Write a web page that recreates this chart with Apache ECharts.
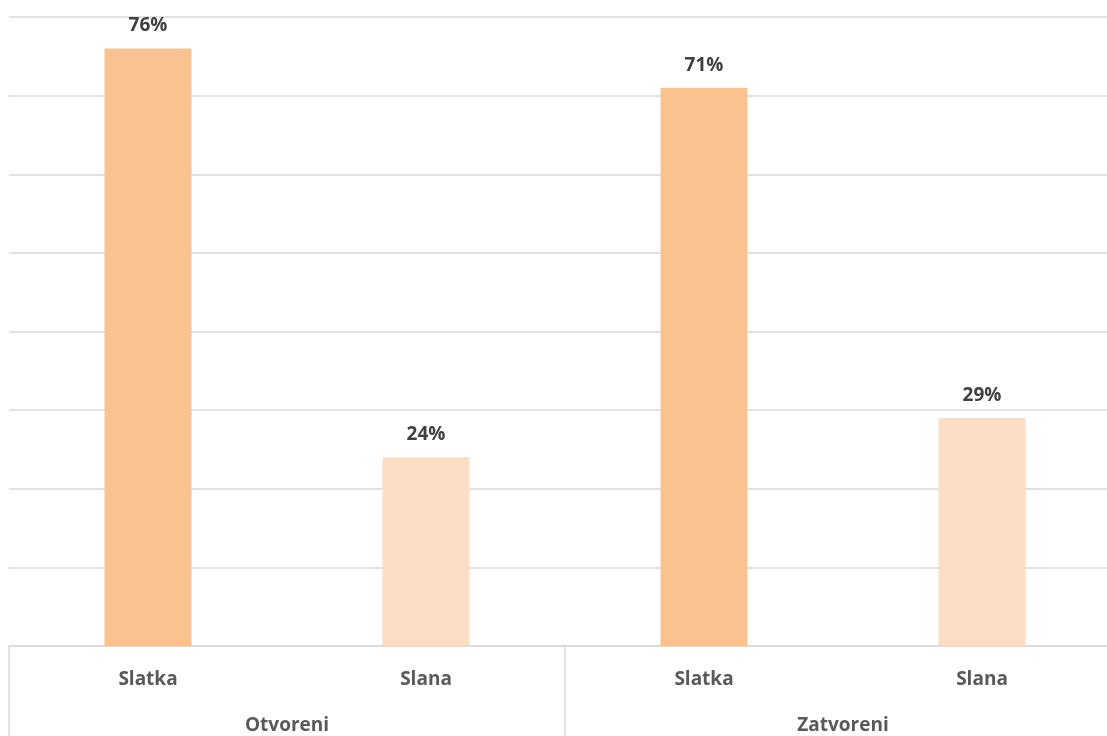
<!DOCTYPE html>
<html>
<head>
<meta charset="utf-8">
<script src="https://cdn.jsdelivr.net/npm/echarts@6/dist/echarts.min.js"></script>
<style>
  html, body { margin: 0; padding: 0; background: #fff; overflow: hidden; }
  #chart { width: 1121px; height: 736px; }
</style>
</head>
<body>
<div id="chart"></div>
<script>
  // inner and outer category levels
  var types = ['Slatka', 'Slana', 'Slatka', 'Slana'];
  var groups = ['Otvoreni', 'Zatvoreni'];
  var values = [76, 24, 71, 29];
  var barColors = ['#F9C28F', '#FBDDC4', '#F9C28F', '#FBDDC4'];

  var chart = echarts.init(document.getElementById('chart'));
  var font = '"Open Sans", "Noto Sans", sans-serif';

  // plot runs a little past the right edge of the window, as in the original
  var option = {
    animation: false,
    grid: { left: 9, right: 0, top: 17, bottom: 90, containLabel: false },
    xAxis: [
      {
        type: 'category',
        data: types,
        position: 'bottom',
        axisLine: { show: true, lineStyle: { color: '#d9d9d9', width: 1.5 } },
        axisTick: { show: false },
        axisLabel: { color: '#595959', fontFamily: font, fontWeight: 'bold', fontSize: 19, margin: 24 }
      },
      {
        type: 'category',
        data: groups,
        position: 'bottom',
        axisLine: { show: false },
        axisTick: { show: true, length: 90, lineStyle: { color: '#d9d9d9', width: 1.5 } },
        axisLabel: { color: '#595959', fontFamily: font, fontWeight: 'bold', fontSize: 19, margin: 70 }
      }
    ],
    yAxis: {
      type: 'value',
      min: 0,
      max: 80,
      interval: 10,
      axisLabel: { show: false },
      axisLine: { show: false },
      axisTick: { show: false },
      splitLine: { lineStyle: { color: '#d9d9d9', width: 1.5 } }
    },
    series: [{
      type: 'bar',
      xAxisIndex: 0,
      barWidth: 87,
      data: values.map(function (v, i) {
        return { value: v, itemStyle: { color: barColors[i] } };
      }),
      label: {
        show: true,
        position: 'top',
        distance: 13,
        formatter: '{c}%',
        color: '#404040',
        fontFamily: font,
        fontWeight: 'bold',
        fontSize: 19
      }
    }]
  };
  chart.setOption(option);
</script>
</body>
</html>
